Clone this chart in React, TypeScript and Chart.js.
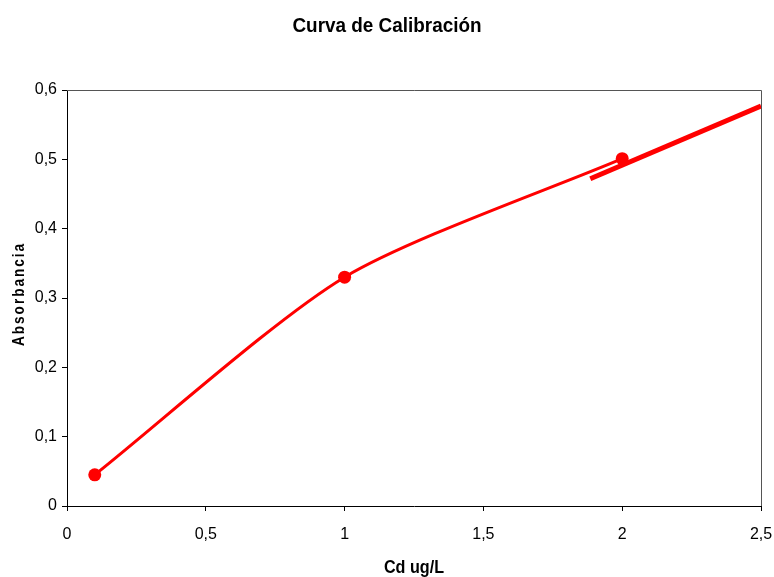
import React, { useEffect, useRef } from "react";
import { Chart, registerables } from "chart.js";

Chart.register(...registerables);

const chartTitle = "Curva de Calibración";
const xAxisTitle = "Cd ug/L";
const yAxisTitle = "Absorbancia";

const concentraciones = [0.1, 1, 2];
const absorbancias = [0.045, 0.33, 0.501];

const tendenciaX = [1.885, 2.5];
const tendenciaY = [0.472, 0.577];

const xTickMin = 0;
const xTickMax = 2.5;
const xTickStep = 0.5;
const yTickMin = 0;
const yTickMax = 0.6;
const yTickStep = 0.1;

const FONT = "'Liberation Sans', Arial, sans-serif";

const fmt = (v: number) =>
  Number.isInteger(v) ? String(v) : v.toFixed(1).replace(".", ",");

function drawScaled(ctx: any, text: string, x: number, y: number, sx: number) {
  ctx.save();
  ctx.translate(x, y);
  ctx.scale(sx, 1);
  ctx.fillText(text, 0, 0);
  ctx.restore();
}

const titlesPlugin = {
  id: "titlesPlugin",
  afterDraw(chart: any) {
    const { ctx, chartArea } = chart;
    ctx.save();
    ctx.strokeStyle = "#555555";
    ctx.lineWidth = 1;
    ctx.beginPath();
    ctx.moveTo(chartArea.left, Math.round(chartArea.top) + 0.5);
    ctx.lineTo(Math.round(chartArea.right) + 0.5, Math.round(chartArea.top) + 0.5);
    ctx.lineTo(Math.round(chartArea.right) + 0.5, chartArea.bottom);
    ctx.stroke();

    ctx.fillStyle = "#000";
    ctx.textAlign = "center";
    ctx.textBaseline = "middle";
    ctx.font = `bold 21px ${FONT}`;
    drawScaled(ctx, chartTitle, 387, 26, 0.9);

    ctx.font = `bold 19px ${FONT}`;
    drawScaled(ctx, xAxisTitle, (chartArea.left + chartArea.right) / 2, 568, 0.85);

    ctx.save();
    ctx.translate(20, 294);
    ctx.rotate(-Math.PI / 2);
    ctx.scale(0.85, 1);
    ctx.font = `bold 16px ${FONT}`;
    (ctx as any).letterSpacing = "2.3px";
    ctx.fillText(yAxisTitle, 0, 0);
    ctx.restore();
    ctx.restore();
  },
};

export default function App() {
  const ref = useRef<HTMLCanvasElement>(null);

  useEffect(() => {
    document.body.style.margin = "0";
    const canvas = ref.current;
    if (!canvas) return;
    const chart = new Chart(canvas, {
      type: "line",
      data: {
        datasets: [
          {
            label: "Absorbancia",
            data: concentraciones.map((x, i) => ({ x, y: absorbancias[i] })),
            borderColor: "#FF0000",
            backgroundColor: "#FF0000",
            borderWidth: 3,
            pointRadius: 6.5,
            pointHoverRadius: 6.5,
            pointBorderWidth: 0,
            pointBackgroundColor: "#FF0000",
            tension: 0.25,
            fill: false,
          },
          {
            label: "Tendencia",
            data: tendenciaX.map((x, i) => ({ x, y: tendenciaY[i] })),
            borderColor: "#FF0000",
            borderWidth: 5,
            pointRadius: 0,
            tension: 0,
            fill: false,
          },
        ],
      },
      options: {
        responsive: false,
        animation: false,
        layout: { padding: { top: 90, right: 0, left: 0, bottom: 0 } },
        plugins: {
          legend: { display: false },
          title: { display: false },
          tooltip: { enabled: false },
        },
        scales: {
          x: {
            type: "linear",
            min: xTickMin,
            max: xTickMax,
            afterFit: (s: any) => {
              s.height = 71;
              s.paddingRight = 13;
              s.paddingLeft = 0;
            },
            ticks: {
              stepSize: xTickStep,
              color: "#000",
              padding: 14,
              font: { family: FONT, size: 16 },
              callback: (v: any) => fmt(Number(v)),
            },
            grid: {
              display: true,
              drawOnChartArea: false,
              drawTicks: true,
              tickLength: 5,
              color: "#000",
            },
            border: { display: true, color: "#000", width: 1 },
          },
          y: {
            type: "linear",
            min: yTickMin,
            max: yTickMax,
            afterFit: (s: any) => {
              s.width = 67;
            },
            ticks: {
              stepSize: yTickStep,
              color: "#000",
              padding: 5,
              font: { family: FONT, size: 16 },
              callback: (v: any) => fmt(Number(v)),
            },
            grid: {
              display: true,
              drawOnChartArea: false,
              drawTicks: true,
              tickLength: 5,
              color: "#000",
            },
            border: { display: true, color: "#000", width: 1 },
          },
        },
      },
      plugins: [titlesPlugin],
    });
    return () => chart.destroy();
  }, []);

  return (
    <div style={{ width: 774, height: 577, background: "#fff" }}>
      <canvas ref={ref} width={774} height={577} />
    </div>
  );
}
